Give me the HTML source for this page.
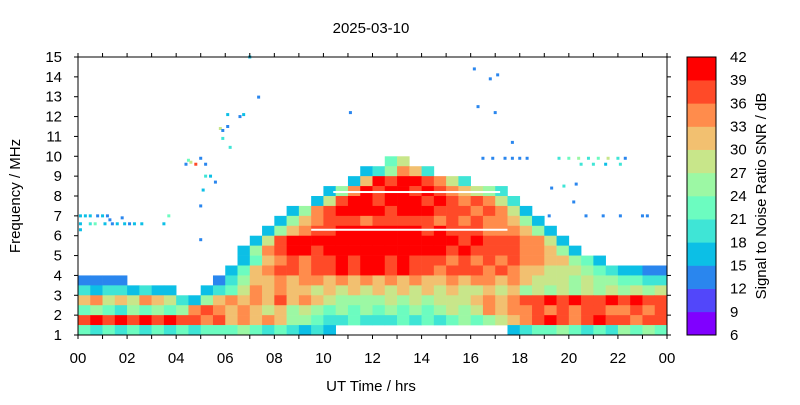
<!DOCTYPE html>
<html><head><meta charset="utf-8"><style>
html,body{margin:0;padding:0;background:#fff;}
svg text{font-family:"Liberation Sans",sans-serif;fill:#000;}
</style></head><body>
<svg id="chart" width="800" height="400" viewBox="0 0 800 400" xmlns="http://www.w3.org/2000/svg">
<rect width="800" height="400" fill="#fff"/>
<text x="371" y="33" font-size="15" text-anchor="middle">2025-03-10</text>
<g id="cells"></g>
<g id="dots"></g>
<g id="axes"></g>
<g id="cbar"></g>
<text transform="translate(20,196) rotate(-90)" font-size="15" text-anchor="middle">Frequency / MHz</text>
<text x="371" y="391" font-size="15" text-anchor="middle">UT Time / hrs</text>
<text transform="translate(766,196) rotate(-90)" font-size="15" text-anchor="middle">Signal to Noise Ratio SNR / dB</text>
</svg>
<script>
// grid rows: top row = 14.5-15 MHz, bottom = 1-1.5 MHz; columns = half-hour bins
const gridRows = [
"................................................",
"................................................",
"................................................",
"................................................",
"................................................",
"................................................",
"................................................",
"................................................",
"................................................",
"................................................",
".........................68.....................",
".......................457a95...................",
"......................49cbccba85................",
"....................47acbccbcba9875.............",
"...................48bccbcccbcbaba85............",
".................47abccccbcccbbbaba84...........",
"................479abbbabbbbbababaa974..........",
"...............479abbcccccccbcbbbaaa974.........",
"..............48bccccccccccccccbcbbbaa84........",
".............47abccbccccccccccbcbbbbaa974.......",
".............469ababbcbccbcbbbabababaa99764.....",
"............469abbabbcbccbcbbabbbaba998887654433",
"3333.......35799a9aa9a9a9a9a99a9aa9a988878776655",
"54554544..4568a9a9989898989898988989787878787878",
"9a898a985479a9a9b9a98777787878889a9abbcbcbbcbcbb",
"676576767aba9a9897876767676767878a9aabababbaabab",
"bcbcbcbcbbab9a9a97765565556565676789abcbabcbbabb",
"656565656566676565454..............456676565767656"
];
// thin white gaps (frequency, start hour, end hour)
const gapF = [8.2, 6.3];
const gapT0 = [10.4, 9.5];
const gapT1 = [17.2, 17.5];
const dotT = [7.0,7.36,6.1,6.6,6.75,5.8,5.9,5.9,6.2,6.1,4.5,4.4,4.6,4.8,5.0,5.2,5.2,5.4,5.6,5.1,5.0,5.0,3.7,3.5,0.1,0.3,0.5,0.8,1.0,1.2,0.1,0.5,0.7,1.1,1.4,1.6,1.9,2.1,2.3,2.6,0.1,1.3,1.8,16.15,16.8,17.1,16.3,17.0,11.1,17.7,16.5,16.9,17.4,17.7,18.0,18.3,19.6,20.0,20.4,20.8,21.2,21.6,22.0,22.3,20.5,21.0,21.5,22.1,19.2,20.7,21.4,22.1,23.0,23.2,19.8,20.3,19.3,20.2];
const dotF = [15.0,12.98,12.1,12.0,12.1,11.4,11.3,10.9,10.45,11.5,9.8,9.6,9.7,9.6,9.9,9.6,9.0,9.0,8.7,8.3,7.5,5.8,7.0,6.6,7.0,7.0,7.0,7.0,7.0,7.0,6.6,6.6,6.6,6.6,6.6,6.6,6.6,6.6,6.6,6.6,6.3,6.8,6.9,14.4,13.9,14.1,12.5,12.2,12.2,10.7,9.9,9.9,9.9,9.9,9.9,9.9,9.9,9.9,9.9,9.9,9.9,9.9,9.9,9.9,9.6,9.6,9.6,9.6,7.0,7.0,7.0,7.0,7.0,7.0,8.5,8.6,8.4,7.7];
const dotB = [4,3,4,3,4,8,3,5,5,3,6,3,8,11,3,3,5,4,3,4,3,3,6,4,4,4,4,3,4,3,4,5,6,4,3,4,4,3,4,4,4,3,3,3,3,3,3,3,3,3,3,3,3,3,3,3,5,6,7,5,6,8,5,3,5,5,4,5,3,3,3,3,3,3,5,3,3,3];
const bandColors = ["#8000ff","#5247fa","#2a86ee","#0cbfe6","#3fe5d6","#6cfcc0","#9cf8a4","#c8e68a","#f2c070","#ff8c4c","#ff4a28","#ff0000"];
const cbTicks = [6,9,12,15,18,21,24,27,30,33,36,39,42];
const xTickLabels = ["00","02","04","06","08","10","12","14","16","18","20","22","00"];
const yTickLabels = [1,2,3,4,5,6,7,8,9,10,11,12,13,14,15];

const X0=78, X1=667, Y0=335, Y1=57;
const xs = t => X0 + (X1-X0)*t/24;
const ys = f => Y0 - (Y0-Y1)*(f-1)/14;
const NS="http://www.w3.org/2000/svg";
function mk(tag, attrs, parent){const e=document.createElementNS(NS,tag);for(const k in attrs)e.setAttribute(k,attrs[k]);parent.appendChild(e);return e;}
const codes="0123456789abc";

const cells=document.getElementById('cells');
gridRows.forEach((row,r)=>{
  const fTop = 15 - 0.5*r, fBot = fTop-0.5;
  for(let c=0;c<row.length&&c<48;c++){
    const ch=row[c]; if(ch==='.')continue;
    const b=codes.indexOf(ch);
    const x=xs(c*0.5), w=xs(c*0.5+0.5)-x;
    const el=mk('rect',{x:x,y:ys(fTop),width:w+0.3,height:ys(fBot)-ys(fTop)+0.3,fill:bandColors[b-1]},cells);
    
    
  }
});
gapF.forEach((f,i)=>{
  const el=mk('rect',{x:xs(gapT0[i]),y:ys(f)-1,width:xs(gapT1[i])-xs(gapT0[i]),height:2,fill:'#fff'},cells);
  
  
});
const dots=document.getElementById('dots');
dotT.forEach((t,i)=>{
  const el=mk('rect',{x:xs(t)-1.5,y:ys(dotF[i])-1.5,width:3,height:3,fill:bandColors[dotB[i]-1]},dots);
  
  
});

const axes=document.getElementById('axes');
mk('rect',{x:X0,y:Y1,width:X1-X0,height:Y0-Y1,fill:'none',stroke:'#000','stroke-width':1},axes);
for(let h=0;h<=24;h++){
  const x=xs(h);
  mk('line',{x1:x,y1:Y0,x2:x,y2:Y0+4,stroke:'#000'},axes);
  mk('line',{x1:x,y1:Y1,x2:x,y2:Y1-4,stroke:'#000'},axes);
}
xTickLabels.forEach((l,i)=>{
  const el=mk('text',{x:xs(i*2),y:363,'font-size':15,'text-anchor':'middle'},axes);
  el.textContent=l;
  
  
});
yTickLabels.forEach(f=>{
  const y=ys(f);
  mk('line',{x1:X0-4,y1:y,x2:X0,y2:y,stroke:'#000'},axes);
  mk('line',{x1:X1,y1:y,x2:X1+4,y2:y,stroke:'#000'},axes);
  const el=mk('text',{x:X0-16,y:y+5,'font-size':15,'text-anchor':'end'},axes);
  el.textContent=f;
  
  
});

const cbar=document.getElementById('cbar');
const CX=687, CW=29;
const cy = v => Y0 - (Y0-Y1)*(v-6)/36;
bandColors.forEach((col,i)=>{
  const el=mk('rect',{x:CX,y:cy(cbTicks[i+1]),width:CW,height:cy(cbTicks[i])-cy(cbTicks[i+1])+0.3,fill:col},cbar);
  
  
});
mk('rect',{x:CX,y:Y1,width:CW,height:Y0-Y1,fill:'none',stroke:'#000'},cbar);
cbTicks.forEach(v=>{
  const el=mk('text',{x:730,y:cy(v)+5,'font-size':15},cbar);
  el.textContent=v;
  
  
});
</script>
</body></html>
